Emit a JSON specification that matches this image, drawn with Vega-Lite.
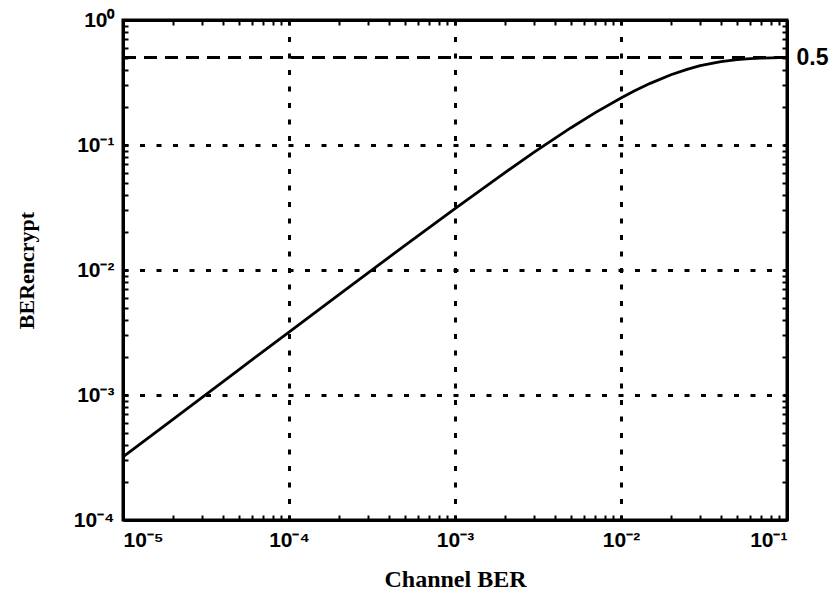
{
  "$schema": "https://vega.github.io/schema/vega-lite/v6.json",
  "width": 664,
  "height": 500,
  "autosize": {"type": "none"},
  "padding": {"left": 123, "top": 20, "right": 50, "bottom": 76},
  "background": "white",
  "config": {
    "view": {"stroke": "black", "strokeWidth": 3},
    "axis": {
      "domainColor": "black",
      "domainWidth": 3,
      "tickColor": "black",
      "tickWidth": 2,
      "tickSize": -5,
      "labelFont": "Liberation Sans",
      "labelFontWeight": "bold",
      "labelFontSize": 21,
      "labelColor": "black",
      "titleFont": "Liberation Serif",
      "titleFontWeight": "bold",
      "titleFontSize": 24,
      "titleColor": "black",
      "gridColor": "black",
      "gridWidth": 3,
      "gridDash": [5, 11.5]
    }
  },
  "data": {
    "values": [
      {"p": 0.00001, "ber": 0.0003199},
      {"p": 0.00002, "ber": 0.0006396},
      {"p": 0.00005, "ber": 0.0015976},
      {"p": 0.0001, "ber": 0.003190},
      {"p": 0.0002, "ber": 0.006361},
      {"p": 0.0005, "ber": 0.015754},
      {"p": 0.001, "ber": 0.031028},
      {"p": 0.002, "ber": 0.060185},
      {"p": 0.003, "ber": 0.087585},
      {"p": 0.005, "ber": 0.13751},
      {"p": 0.007, "ber": 0.18156},
      {"p": 0.01, "ber": 0.23806},
      {"p": 0.012, "ber": 0.27018},
      {"p": 0.015, "ber": 0.31135},
      {"p": 0.02, "ber": 0.36459},
      {"p": 0.025, "ber": 0.40314},
      {"p": 0.03, "ber": 0.43097},
      {"p": 0.04, "ber": 0.46531},
      {"p": 0.05, "ber": 0.48283},
      {"p": 0.06, "ber": 0.49164},
      {"p": 0.07, "ber": 0.49599},
      {"p": 0.08, "ber": 0.49811},
      {"p": 0.09, "ber": 0.49913},
      {"p": 0.1, "ber": 0.49960}
    ]
  },
  "layer": [
    {
      "mark": {"type": "rule", "color": "black", "strokeWidth": 2.8, "strokeDash": [13, 8]},
      "encoding": {
        "x": {
          "datum": 0.00001, "type": "quantitative",
          "scale": {"type": "log", "domain": [0.00001, 0.1]},
          "axis": {
            "orient": "top", "title": null, "labels": false, "grid": false,
            "values": [0.00001,0.00002,0.00003,0.00004,0.00005,0.00006,0.00007,0.00008,0.00009,0.0001,0.0002,0.0003,0.0004,0.0005,0.0006,0.0007,0.0008,0.0009,0.001,0.002,0.003,0.004,0.005,0.006,0.007,0.008,0.009,0.01,0.02,0.03,0.04,0.05,0.06,0.07,0.08,0.09,0.1]
          }
        },
        "x2": {"datum": 0.1},
        "y": {
          "datum": 0.5, "type": "quantitative",
          "scale": {"type": "log", "domain": [0.0001, 1]},
          "axis": {
            "orient": "right", "title": null, "grid": false,
            "labelFontSize": 23, "labelPadding": 14,
            "labelExpr": "abs(datum.value - 0.5) < 1e-9 ? '0.5' : ''",
            "values": [0.0001,0.0002,0.0003,0.0004,0.0005,0.0006,0.0007,0.0008,0.0009,0.001,0.002,0.003,0.004,0.005,0.006,0.007,0.008,0.009,0.01,0.02,0.03,0.04,0.05,0.06,0.07,0.08,0.09,0.1,0.2,0.3,0.4,0.5,0.6,0.7,0.8,0.9,1]
          }
        }
      }
    },
    {
      "mark": {"type": "line", "color": "black", "strokeWidth": 2.8},
      "encoding": {
        "x": {
          "field": "p", "type": "quantitative",
          "scale": {"type": "log", "domain": [0.00001, 0.1]},
          "axis": {
            "orient": "bottom", "title": "Channel BER", "titlePadding": 17,
            "labelPadding": 14, "grid": true,
            "values": [0.00001,0.00002,0.00003,0.00004,0.00005,0.00006,0.00007,0.00008,0.00009,0.0001,0.0002,0.0003,0.0004,0.0005,0.0006,0.0007,0.0008,0.0009,0.001,0.002,0.003,0.004,0.005,0.006,0.007,0.008,0.009,0.01,0.02,0.03,0.04,0.05,0.06,0.07,0.08,0.09,0.1],
            "labelExpr": "abs(log(datum.value)/LN10 - round(log(datum.value)/LN10)) < 1e-6 ? '10' + (round(log(datum.value)/LN10) < 0 ? '⁻' : '') + ['⁰','¹','²','³','⁴','⁵'][abs(round(log(datum.value)/LN10))] : ''",
            "gridOpacity": {"condition": {"test": "abs(log(datum.value)/LN10 - round(log(datum.value)/LN10)) < 1e-6", "value": 1}, "value": 0}
          }
        },
        "y": {
          "field": "ber", "type": "quantitative",
          "scale": {"type": "log", "domain": [0.0001, 1]},
          "axis": {
            "orient": "left", "title": "BERencrypt", "titlePadding": 35, "titleFontSize": 22,
            "labelPadding": 14, "grid": true,
            "values": [0.0001,0.0002,0.0003,0.0004,0.0005,0.0006,0.0007,0.0008,0.0009,0.001,0.002,0.003,0.004,0.005,0.006,0.007,0.008,0.009,0.01,0.02,0.03,0.04,0.05,0.06,0.07,0.08,0.09,0.1,0.2,0.3,0.4,0.5,0.6,0.7,0.8,0.9,1],
            "labelExpr": "abs(log(datum.value)/LN10 - round(log(datum.value)/LN10)) < 1e-6 ? '10' + (round(log(datum.value)/LN10) < 0 ? '⁻' : '') + ['⁰','¹','²','³','⁴','⁵'][abs(round(log(datum.value)/LN10))] : ''",
            "gridOpacity": {"condition": {"test": "abs(log(datum.value)/LN10 - round(log(datum.value)/LN10)) < 1e-6 && datum.value < 0.99 && datum.value > 0.00011", "value": 1}, "value": 0}
          }
        }
      }
    }
  ],
  "resolve": {"axis": {"x": "independent", "y": "independent"}}
}
